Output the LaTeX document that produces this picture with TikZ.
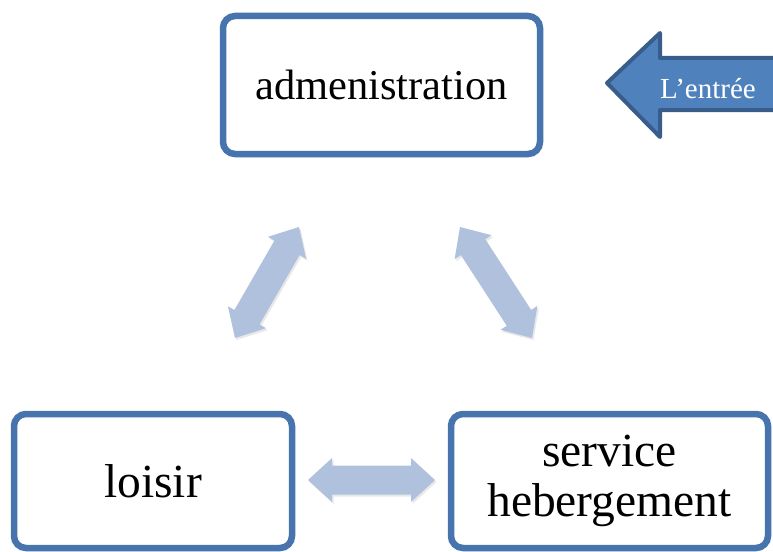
\documentclass[tikz,border=0pt]{standalone}
\usepackage{fontspec}
\setmainfont{Liberation Serif}
\usetikzlibrary{calc,shadows}
\definecolor{boxline}{RGB}{71,116,172}
\definecolor{flowfill}{RGB}{176,193,222}
\definecolor{entryfill}{RGB}{79,129,189}
\definecolor{entryline}{RGB}{56,93,138}

% wide two-headed arrow from #1 to #2
\newcommand\fatarrow[2]{%
  \fill[flow] (#1)
    -- ($(#1)!24pt!(#2)!22pt!90:(#2)$)
    -- ($(#1)!24pt!(#2)!14.5pt!90:(#2)$)
    -- ($(#2)!24pt!(#1)!14.5pt!-90:(#1)$)
    -- ($(#2)!24pt!(#1)!22pt!-90:(#1)$)
    -- (#2)
    -- ($(#2)!24pt!(#1)!22pt!90:(#1)$)
    -- ($(#2)!24pt!(#1)!14.5pt!90:(#1)$)
    -- ($(#1)!24pt!(#2)!14.5pt!-90:(#2)$)
    -- ($(#1)!24pt!(#2)!22pt!-90:(#2)$)
    -- cycle;}

\begin{document}
\begin{tikzpicture}[x=1pt,y=1pt,
  box/.style={draw=boxline, line width=6.5pt, fill=white, rounded corners=12pt,
    align=center, inner sep=0pt,
    drop shadow={opacity=.22, shadow xshift=1pt, shadow yshift=-3pt}},
  flow/.style={fill=flowfill,
    drop shadow={opacity=.18, shadow xshift=1.5pt, shadow yshift=-2pt}},
  bigtext/.style={font=\fontsize{47.5}{50}\selectfont},
]
\useasboundingbox (0,0) rectangle (773,-551);
\clip (0,0) rectangle (773,-551);

% the three departments
\node[box, minimum width=317pt, minimum height=138pt,
      font=\fontsize{42.5}{48}\selectfont] (admin) at (381.5,-85) {admenistration};
\node[box, bigtext, minimum width=278pt, minimum height=134pt] (loisir) at (153,-481) {loisir};
\node[box, bigtext, minimum width=317pt, minimum height=134pt] (service) at (609.5,-481)
  {\raisebox{-4pt}{\begin{tabular}{@{}c@{}}service\\hebergement\end{tabular}}};

% entrance arrow
\filldraw[fill=entryfill, draw=entryline, line width=4pt, line join=round]
  (607,-83) -- (660,-33) -- (660,-58) -- (790,-58) -- (790,-110)
  -- (660,-110) -- (660,-137) -- cycle;
\node[font=\fontsize{29}{32}\selectfont, text=white, anchor=base] (entree) at (708,-98) {L’entrée};

% links between departments
\coordinate (a1) at (299,-227);
\coordinate (l1) at (235,-338);
\coordinate (a2) at (460,-227);
\coordinate (s1) at (532,-338);
\coordinate (l2) at (308,-480);
\coordinate (s2) at (435,-480);
\fatarrow{a1}{l1}
\fatarrow{a2}{s1}
\fatarrow{l2}{s2}
\end{tikzpicture}
\end{document}
